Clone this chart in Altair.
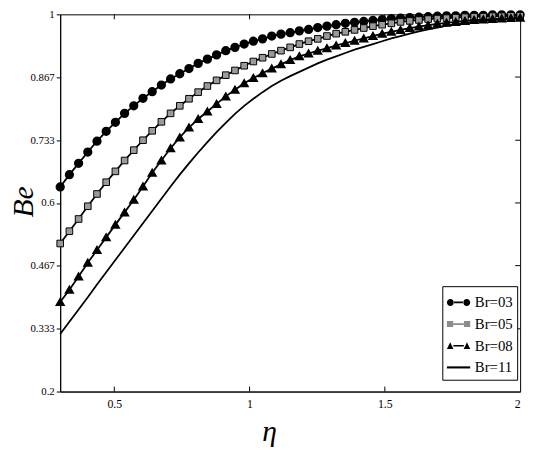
import altair as alt
import pandas as pd

eta = [0.300, 0.334, 0.368, 0.402, 0.436, 0.470, 0.504, 0.538, 0.572, 0.606,
       0.640, 0.674, 0.708, 0.742, 0.776, 0.810, 0.844, 0.878, 0.912, 0.946,
       0.980, 1.014, 1.048, 1.082, 1.116, 1.150, 1.184, 1.218, 1.252, 1.286,
       1.320, 1.354, 1.388, 1.422, 1.456, 1.490, 1.524, 1.558, 1.592, 1.626,
       1.660, 1.694, 1.728, 1.762, 1.796, 1.830, 1.864, 1.898, 1.932, 1.966, 2.000]

br03 = [0.634, 0.660, 0.684, 0.708, 0.731, 0.752, 0.771, 0.790, 0.806, 0.822,
        0.836, 0.850, 0.863, 0.874, 0.885, 0.896, 0.905, 0.914, 0.923, 0.930,
        0.937, 0.943, 0.948, 0.954, 0.958, 0.961, 0.965, 0.968, 0.972, 0.975,
        0.978, 0.981, 0.983, 0.985, 0.987, 0.989, 0.991, 0.992, 0.993, 0.994,
        0.995, 0.996, 0.997, 0.997, 0.998, 0.998, 0.998, 0.999, 0.999, 0.999, 0.999]

br05 = [0.514, 0.540, 0.566, 0.593, 0.619, 0.644, 0.667, 0.690, 0.712, 0.733,
        0.753, 0.772, 0.790, 0.806, 0.821, 0.835, 0.848, 0.860, 0.871, 0.881,
        0.891, 0.900, 0.908, 0.916, 0.923, 0.930, 0.937, 0.943, 0.948, 0.954,
        0.959, 0.963, 0.967, 0.971, 0.975, 0.978, 0.981, 0.984, 0.986, 0.988,
        0.990, 0.991, 0.992, 0.993, 0.994, 0.995, 0.995, 0.996, 0.996, 0.997, 0.997]

br08 = [0.390, 0.416, 0.444, 0.473, 0.500, 0.527, 0.554, 0.580, 0.607, 0.635,
        0.664, 0.690, 0.716, 0.739, 0.760, 0.778, 0.794, 0.810, 0.826, 0.840,
        0.854, 0.865, 0.875, 0.885, 0.894, 0.903, 0.911, 0.917, 0.923, 0.928,
        0.934, 0.939, 0.944, 0.949, 0.954, 0.959, 0.963, 0.967, 0.971, 0.974,
        0.977, 0.980, 0.982, 0.984, 0.986, 0.988, 0.989, 0.990, 0.991, 0.992, 0.993]

br11 = [0.322, 0.348, 0.374, 0.400, 0.427, 0.453, 0.479, 0.505, 0.531, 0.557,
        0.583, 0.609, 0.635, 0.660, 0.684, 0.707, 0.729, 0.750, 0.770, 0.789,
        0.806, 0.821, 0.835, 0.848, 0.859, 0.869, 0.878, 0.887, 0.896, 0.904,
        0.911, 0.918, 0.925, 0.931, 0.937, 0.943, 0.949, 0.954, 0.959, 0.964,
        0.968, 0.972, 0.976, 0.979, 0.982, 0.984, 0.986, 0.988, 0.989, 0.990, 0.991]

series_names = ["Br=03", "Br=05", "Br=08", "Br=11"]
x_ticks = [0.5, 1, 1.5, 2]
y_ticks = [0.2, 0.333, 0.467, 0.6, 0.733, 0.867, 1]

rows = []
for name, vals in zip(series_names, [br03, br05, br08, br11]):
    for e, v in zip(eta, vals):
        rows.append({"eta": e, "Be": v, "series": name})
df = pd.DataFrame(rows)

FONT = "Liberation Serif"
W, H = 467, 383

xs = alt.Scale(domain=[0.3, 2], nice=False, zero=False)
ys = alt.Scale(domain=[0.2, 1], nice=False, zero=False)

X = alt.X("eta:Q", scale=xs, axis=alt.Axis(
    values=x_ticks, format=".1~f", title="η", grid=False, ticks=False, labelPadding=7,
    labelFont=FONT, labelFontSize=12, labelColor="black",
    domainColor="black", titleFont=FONT, titleFontSize=30, titleFontStyle="italic",
    titleFontWeight="normal", titleColor="black", titleX=212, titleY=50,
    titleBaseline="alphabetic", titleAlign="center"))
Y = alt.Y("Be:Q", scale=ys, axis=alt.Axis(
    values=y_ticks, format=".3~f", title="Be", grid=False, tickSize=4, tickColor="black",
    labelPadding=2, labelFont=FONT, labelFontSize=11, labelColor="black",
    domainColor="black", titleFont=FONT, titleFontSize=30, titleFontStyle="italic",
    titleFontWeight="normal", titleColor="black", titleX=-37, titleY=190,
    titleBaseline="middle", titleAlign="center", titleAngle=-90))

base = alt.Chart(df)

lines = base.mark_line(color="black", strokeWidth=1.8).encode(
    x=X, y=Y, detail="series:N")

circles = base.transform_filter(alt.datum.series == "Br=03").mark_point(
    shape="circle", filled=True, fill="black", stroke="black", size=55, opacity=1
).encode(x=X, y=Y)

squares = base.transform_filter(alt.datum.series == "Br=05").mark_point(
    shape="square", filled=True, fill="#9a9a9a", stroke="black", strokeWidth=1,
    size=45, opacity=1
).encode(x=X, y=Y)

triangles = base.transform_filter(alt.datum.series == "Br=08").mark_point(
    shape="triangle-up", filled=True, fill="black", stroke="black", size=50, opacity=1
).encode(x=X, y=Y)

legend_paths = [
    "M-0.45,-0.07H0.45V0.07H-0.45Z M-1.0,0 A0.3,0.3 0 1,0 -0.4,0 A0.3,0.3 0 1,0 -1.0,0Z M0.4,0 A0.3,0.3 0 1,0 1.0,0 A0.3,0.3 0 1,0 0.4,0Z",
    "M-0.45,-0.07H0.45V0.07H-0.45Z M-1.0,-0.26H-0.46V0.26H-1.0Z M0.46,-0.26H1.0V0.26H0.46Z",
    "M-0.45,-0.07H0.45V0.07H-0.45Z M-1.0,0.27L-0.72,-0.3L-0.44,0.27Z M0.44,0.27L0.72,-0.3L1.0,0.27Z",
    "M-1,-0.09H1V0.09H-1Z",
]
legend_fills = ["black", "#8c8c8c", "black", "black"]

leg = alt.Legend(title=None, orient="none", legendX=388, legendY=276,
                 padding=4, strokeColor="black", fillColor="white",
                 labelFont=FONT, labelFontSize=15, labelColor="black",
                 symbolSize=560, symbolStrokeColor="black", symbolStrokeWidth=0.8,
                 symbolOpacity=1, rowPadding=1, labelOffset=4, cornerRadius=0)

legend_layer = base.transform_filter("datum.eta < 0").mark_point(
    filled=True, opacity=1, stroke="black").encode(
    x=X, y=Y,
    shape=alt.Shape("series:N", scale=alt.Scale(domain=series_names, range=legend_paths), legend=leg),
    fill=alt.Fill("series:N", scale=alt.Scale(domain=series_names, range=legend_fills), legend=leg),
)

xt = pd.DataFrame({"eta": [0.5, 1, 1.5]})
yt = pd.DataFrame({"Be": [0.333, 0.467, 0.6, 0.733, 0.867]})

top_ticks = alt.Chart(xt).mark_rule(color="black", strokeWidth=1).encode(
    x=X, y=alt.value(0), y2=alt.value(5))
bottom_ticks = alt.Chart(xt).mark_rule(color="black", strokeWidth=1).encode(
    x=X, y=alt.value(H - 5), y2=alt.value(H))
right_ticks = alt.Chart(yt).mark_rule(color="black", strokeWidth=1).encode(
    y=Y, x=alt.value(W - 5), x2=alt.value(W))

chart = alt.layer(
    lines, circles, squares, triangles, legend_layer, top_ticks, bottom_ticks, right_ticks
).properties(
    width=W, height=H,
    autosize=alt.AutoSizeParams(type="none"),
    padding={"left": 53, "top": 3, "right": 8, "bottom": 62},
    background="white",
).configure_view(stroke="black", strokeWidth=1)

chart.save("out.html", embed_options={"renderer": "svg", "actions": False})
